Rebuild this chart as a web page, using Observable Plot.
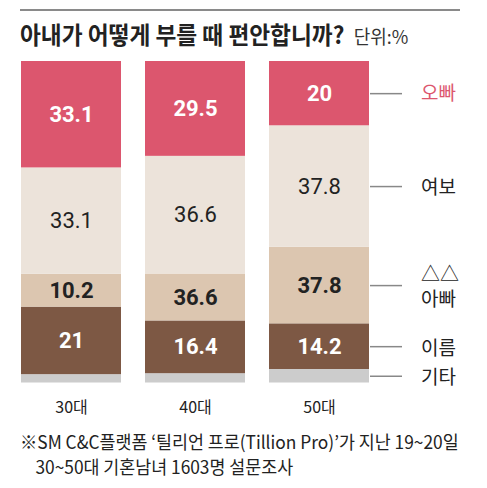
<!DOCTYPE html>
<html>
<head>
<meta charset="utf-8">
<script src="https://cdn.jsdelivr.net/npm/d3@7"></script>
<script src="https://cdn.jsdelivr.net/npm/@observablehq/plot@0.6"></script>
<style>
  body { margin: 0; background: #fff; }
  #wrap { position: relative; width: 487px; height: 488px; overflow: hidden; font-family: "Noto Sans CJK KR", sans-serif; color: #222; }
  .rule { position: absolute; left: 20px; top: 9px; width: 440px; height: 2px; background: #8a8a8a; }
  .title { position: absolute; left: 20px; top: 16px; white-space: nowrap; transform: scaleX(0.945); transform-origin: left top; }
  .title .t { font-size: 24px; font-weight: 700; }
  .title .unit { font-size: 19px; color: #333; margin-left: 10px; }
  #chart { position: absolute; left: 0; top: 50px; }
  .note { position: absolute; left: 20px; top: 429px; font-size: 18px; line-height: 25px; white-space: nowrap; transform: scaleX(0.963); transform-origin: left top; }
  .note .ind { padding-left: 16px; }
</style>
</head>
<body>
<div id="wrap">
  <div class="rule"></div>
  <div class="title"><span class="t">아내가 어떻게 부를 때 편안합니까?</span><span class="unit">단위:%</span></div>
  <div id="chart"></div>
  <div class="note">※SM C&amp;C플랫폼 ‘틸리언 프로(Tillion Pro)’가 지난 19~20일<br><span class="ind">30~50대 기혼남녀 1603명 설문조사</span></div>
</div>
<script>
const ages = ["30대", "40대", "50대"]
// stack order, bottom to top
const categories = ["기타", "이름", "아빠", "여보", "오빠"]
const oppa = [33.1, 29.5, 20]
const yeobo = [33.1, 36.6, 37.8]
const appa = [10.2, 14.6, 23.8]   // segment heights as drawn
const appaPrinted = ["10.2", "36.6", "37.8"]  // numbers as printed in the source
const ireum = [21, 16.4, 14.2]
const gita = [2.6, 2.9, 4.2]
const legendNames = {"오빠": "오빠", "여보": "여보", "아빠": "△△\n아빠", "이름": "이름", "기타": "기타"}
const colors = ["#cccccc", "#7d5844", "#dcc6b0", "#ece3da", "#dc566e"]

const series = {"기타": gita, "이름": ireum, "아빠": appa, "여보": yeobo, "오빠": oppa}
const rows = []
ages.forEach((age, i) => {
  categories.forEach(cat => {
    let label = cat == "기타" ? "" : String(series[cat][i])
    if (cat == "아빠") label = appaPrinted[i]
    rows.push({age, cat, value: series[cat][i], label})
  })
})
const last = rows.filter(d => d.age == "50대")

const numFont = "Roboto, 'Liberation Sans', sans-serif"
const stack = o => Plot.stackY({x: "age", y: "value", z: "cat", ...o})

let chart = Plot.plot({
  width: 487,
  height: 375,
  marginLeft: 20,
  marginRight: 117,
  marginTop: 11,
  marginBottom: 42.5,
  style: {fontFamily: "'Noto Sans CJK KR', sans-serif", fontSize: "16px", color: "#222"},
  x: {domain: ages, paddingInner: 0.19, paddingOuter: 0, label: null, tickSize: 0, tickPadding: 19},
  y: {domain: [0, 100], axis: null},
  color: {domain: categories, range: colors},
  marks: [
    Plot.barY(rows, stack({fill: "cat"})),
    // numbers inside the bars
    Plot.text(rows, stack({text: d => (d.cat == "오빠" || d.cat == "이름") ? d.label : "", ariaLabel: "num",
      fill: "white", fontSize: 22, fontWeight: "bold", fontFamily: numFont})),
    Plot.text(rows, stack({text: d => d.cat == "아빠" ? d.label : "", ariaLabel: "num",
      fill: "#222", fontSize: 22, fontWeight: "bold", fontFamily: numFont})),
    Plot.text(rows, stack({text: d => d.cat == "여보" ? d.label : "", ariaLabel: "num",
      fill: "#222", fontSize: 22, fontFamily: numFont})),
    // legend on the right of the last bar
    Plot.tickY(last, stack({dx: 101, insetRight: 68, stroke: "#888", strokeWidth: 1.5})),
    Plot.text(last, stack({text: d => d.cat == "오빠" ? legendNames[d.cat] : "", dx: 101.5, textAnchor: "start",
      fill: "#dc566e", fontSize: 19})),
    Plot.text(last, stack({text: d => d.cat != "오빠" ? legendNames[d.cat] : "", dx: 101.5, textAnchor: "start",
      fill: "#222", fontSize: 19, lineHeight: 1.3}))
  ]
})

// the source uses a condensed face for the numbers: squeeze them around their anchor
d3.select(chart).selectAll('g[aria-label="num"] text').each(function() {
  const el = d3.select(this)
  const t = el.attr("transform") || ""
  const x = el.attr("x"), y = el.attr("y")
  if (x != null || y != null) {
    el.attr("transform", `${t} translate(${x || 0},${y || 0}) scale(0.78,1)`).attr("x", null).attr("y", null)
  } else {
    el.attr("transform", `${t} scale(0.78,1)`)
  }
})

d3.select('#chart').append(() => chart)
</script>
</body>
</html>
